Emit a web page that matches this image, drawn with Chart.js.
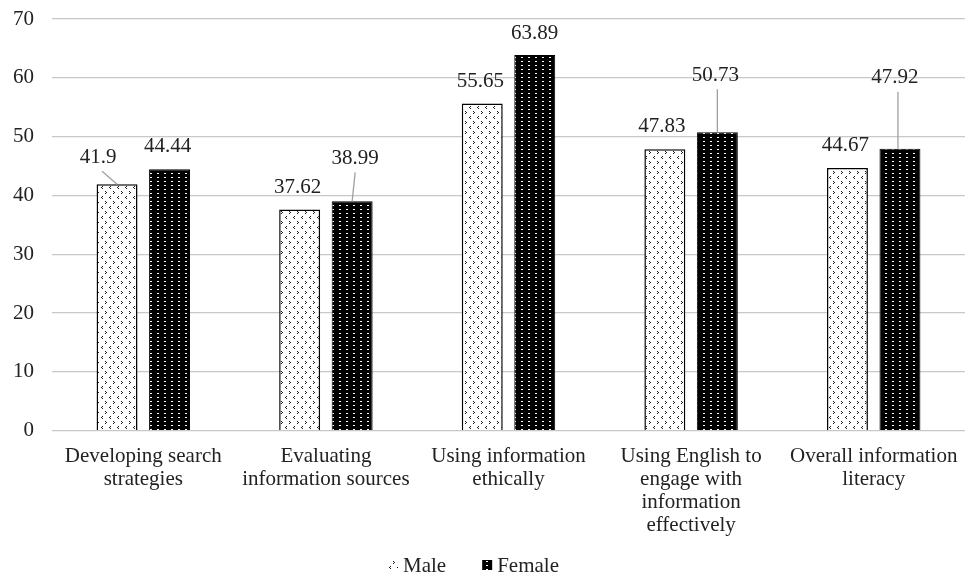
<!DOCTYPE html>
<html><head><meta charset="utf-8">
<script src="https://cdn.jsdelivr.net/npm/chart.js@4"></script>
<style>html,body{margin:0;padding:0;background:#fff;} canvas{display:block;}</style>
</head><body>
<canvas id="c" width="965" height="578"></canvas>
<script>
// ---- data ----
const categories = [
  ["Developing search", "strategies"],
  ["Evaluating", "information sources"],
  ["Using information", "ethically"],
  ["Using English to", "engage with", "information", "effectively"],
  ["Overall information", "literacy"]
];
const seriesNames = ["Male", "Female"];
const maleValues = [41.9, 37.62, 55.65, 47.83, 44.67];
const femaleValues = [44.44, 38.99, 63.89, 50.73, 47.92];
const yMin = 0, yMax = 70, yStep = 10;

// ---- styling: label placement relative to bar top (px) ----
const labelOffsets = [
  [{dx:-19,dy:-27,leader:[4,0]}, {dx:-2,dy:-22}, {dx:-2,dy:-22}, {dx:-3,dy:-23}, {dx:-2,dy:-22}],
  [{dx:-2,dy:-23}, {dx:3,dy:-43,leader:[0,0]}, {dx:0,dy:-21}, {dx:-2,dy:-57,leader:[2,0]}, {dx:-5,dy:-71,leader:[3,-2]}]
];

const FONT = "'Liberation Serif', 'Times New Roman', serif";
const TEXT = '#222';

function malePattern() {
  const c = document.createElement('canvas'); c.width = 8; c.height = 10;
  const x = c.getContext('2d');
  x.fillStyle = '#fff'; x.fillRect(0,0,8,10);
  x.fillStyle = '#1a1a1a';
  // ">" mark
  x.fillRect(1,1,1,1); x.fillRect(2,2,1,1); x.fillRect(1,3,1,1);
  // "<" mark
  x.fillRect(6,6,1,1); x.fillRect(5,7,1,1); x.fillRect(6,8,1,1);
  return x.createPattern(c, 'repeat');
}
function femalePattern() {
  const c = document.createElement('canvas'); c.width = 7; c.height = 4;
  const x = c.getContext('2d');
  x.fillStyle = '#000'; x.fillRect(0,0,7,4);
  x.fillStyle = '#fff'; x.fillRect(3,1,2,1);
  return x.createPattern(c, 'repeat');
}

const labelPlugin = {
  id: 'valueLabels',
  afterDatasetsDraw(chart) {
    const ctx = chart.ctx;
    ctx.save();
    ctx.font = '21px ' + FONT;
    ctx.fillStyle = TEXT;
    ctx.textAlign = 'center';
    ctx.textBaseline = 'middle';
    chart.data.datasets.forEach((ds, di) => {
      const meta = chart.getDatasetMeta(di);
      meta.data.forEach((el, i) => {
        const o = labelOffsets[di][i];
        const tx = el.x + o.dx, ty = el.y + o.dy;
        if (o.leader) {
          ctx.strokeStyle = '#a0a0a0';
          ctx.lineWidth = 1.3;
          ctx.beginPath();
          ctx.moveTo(tx + o.leader[0], ty + 14);
          ctx.lineTo(el.x + o.leader[1], el.y);
          ctx.stroke();
        }
        ctx.fillText(String(ds.data[i]), tx, ty);
      });
    });
    ctx.restore();
  },
  afterDraw(chart) {
    // legend
    const ctx = chart.ctx;
    ctx.save();
    ctx.font = '21px ' + FONT;
    ctx.textBaseline = 'middle';
    ctx.textAlign = 'left';
    const y = 565;
    const items = chart.data.datasets.map(ds => ({label: ds.label, fill: ds.backgroundColor, w: ctx.measureText(ds.label).width}));
    const box = 10, gap = 5, spacing = 36;
    let total = 0;
    items.forEach((it, k) => { total += box + gap + it.w + (k ? spacing : 0); });
    let x = chart.width / 2 - 9 - total / 2;
    items.forEach((it, k) => {
      ctx.fillStyle = it.fill;
      ctx.fillRect(x, y - 5, box, box);
      x += box + gap;
      ctx.fillStyle = TEXT;
      ctx.fillText(it.label, x, y + 1);
      x += it.w + spacing;
    });
    ctx.restore();
  }
};

new Chart(document.getElementById('c'), {
  type: 'bar',
  data: {
    labels: categories,
    datasets: [
      { label: seriesNames[0], data: maleValues, backgroundColor: malePattern(), borderColor: '#000', borderWidth: 1.5 },
      { label: seriesNames[1], data: femaleValues, backgroundColor: femalePattern(), borderColor: '#000', borderWidth: 1 }
    ]
  },
  options: {
    responsive: false,
    animation: false,
    devicePixelRatio: 1,
    categoryPercentage: 0.575,
    barPercentage: 0.78,
    layout: { padding: { top: 19, right: 0, left: 12, bottom: 27 } },
    plugins: { legend: { display: false }, tooltip: { enabled: false } },
    scales: {
      x: {
        grid: { display: false, drawTicks: false },
        border: { display: false },
        ticks: { color: TEXT, font: { family: FONT, size: 21, lineHeight: 1.1 }, padding: 14, maxRotation: 0, minRotation: 0, autoSkip: false },
        afterFit(scale) { scale.paddingLeft = 0; scale.paddingRight = 0; }
      },
      y: {
        min: yMin, max: yMax,
        grid: { color: '#c8c8c8', lineWidth: 1.3, drawTicks: false },
        border: { display: false },
        ticks: { stepSize: yStep, color: TEXT, font: { family: FONT, size: 21 }, padding: 18 },
        afterFit(scale) { scale.width = 40; scale.paddingTop = 0; scale.paddingBottom = 0; }
      }
    }
  },
  plugins: [labelPlugin]
});
</script>
</body></html>
